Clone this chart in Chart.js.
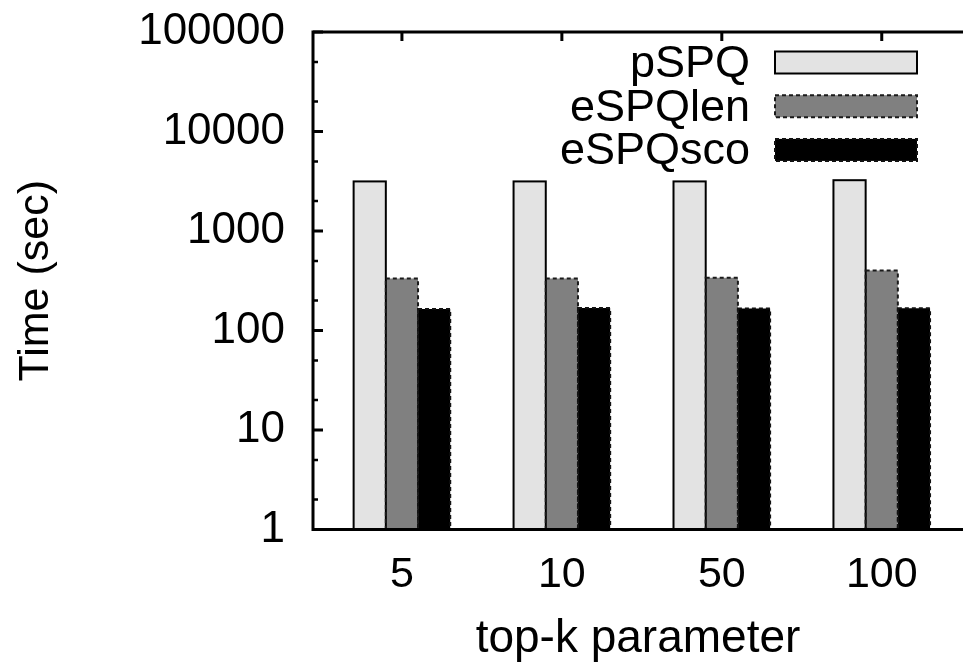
<!DOCTYPE html>
<html>
<head>
<meta charset="utf-8">
<script src="https://cdn.jsdelivr.net/npm/chart.js@4.4.1/dist/chart.umd.min.js"></script>
<style>
html,body{margin:0;padding:0;background:#fff;overflow:hidden}
#wrap{width:963px;height:665px;position:relative}
</style>
</head>
<body>
<div id="wrap"><canvas id="c"></canvas></div>
<script>
// ---- data ----
const categories = ['5', '10', '50', '100'];
const seriesNames = ['pSPQ', 'eSPQlen', 'eSPQsco'];
const pSPQ = [3150, 3150, 3150, 3240];
const eSPQlen = [333, 333, 338, 400];
const eSPQsco = [164, 168, 166, 167];
const yTickValues = [1, 10, 100, 1000, 10000, 100000];
const yMinorMultipliers = [2, 5];
const xTitle = 'top-k parameter';
const yTitle = 'Time (sec)';

const FONT = '"Liberation Sans", Arial, Helvetica, sans-serif';

function toPoints(arr) { return arr.map((v, i) => ({ x: i, y: v })); }

const seriesValues = [pSPQ, eSPQlen, eSPQsco];
const fills = ['#e3e3e3', '#808080', '#000000'];
const outlines = ['#000000', '#1a1a1a', '#111111'];
const dashes = [[], [4, 3], [4, 3]];

const datasets = seriesNames.map((name, i) => ({
  label: name,
  data: toPoints(seriesValues[i]),
  backgroundColor: fills[i],
  borderWidth: 0,
  outlineColor: outlines[i],
  outlineDash: dashes[i],
  categoryPercentage: 0.604,
  barPercentage: 1.0
}));

const decor = {
  id: 'decor',
  afterDatasetsDraw(chart) {
    const { ctx, chartArea: a, scales: { x, y } } = chart;
    chart.data.datasets.forEach((ds, di) => {
      const meta = chart.getDatasetMeta(di);
      meta.data.forEach(bar => {
        const p = bar.getProps(['x', 'y', 'base', 'width'], true);
        ctx.save();
        ctx.strokeStyle = ds.outlineColor;
        ctx.lineWidth = 2;
        ctx.setLineDash(ds.outlineDash);
        ctx.strokeRect(p.x - p.width / 2, p.y, p.width, p.base - p.y);
        ctx.restore();
      });
    });
    ctx.save();
    ctx.strokeStyle = '#000';
    ctx.lineWidth = 3;
    ctx.beginPath();
    ctx.moveTo(a.right + 5, a.top);
    ctx.lineTo(a.left, a.top);
    ctx.lineTo(a.left, a.bottom);
    ctx.lineTo(a.right + 5, a.bottom);
    ctx.stroke();
    ctx.beginPath();
    yTickValues.forEach(v => {
      const py = y.getPixelForValue(v);
      ctx.moveTo(a.left, py); ctx.lineTo(a.left + 10, py);
    });
    ctx.stroke();
    ctx.lineWidth = 2.5;
    ctx.beginPath();
    yTickValues.slice(0, -1).forEach(v => {
      yMinorMultipliers.forEach(m => {
        const py = y.getPixelForValue(v * m);
        ctx.moveTo(a.left, py); ctx.lineTo(a.left + 5, py);
      });
    });
    ctx.stroke();
    ctx.lineWidth = 3;
    ctx.beginPath();
    categories.forEach((c, i) => {
      const px = x.getPixelForValue(i);
      ctx.moveTo(px, a.top); ctx.lineTo(px, a.top + 9);
    });
    ctx.stroke();
    ctx.restore();

    // legend (inside, top right)
    const textRight = 750, sampleLeft = 775, sampleW = 142, sampleH = 22;
    const row0 = 62.5, rowStep = 43.7;
    ctx.save();
    ctx.font = '45px ' + FONT;
    ctx.textAlign = 'right';
    ctx.textBaseline = 'middle';
    chart.data.datasets.forEach((ds, i) => {
      const cy = row0 + i * rowStep;
      ctx.fillStyle = '#000';
      ctx.fillText(ds.label, textRight, cy + 2);
      ctx.fillStyle = ds.backgroundColor;
      ctx.fillRect(sampleLeft, cy - sampleH / 2, sampleW, sampleH);
      ctx.strokeStyle = ds.outlineColor;
      ctx.lineWidth = 2;
      ctx.setLineDash(ds.outlineDash);
      ctx.strokeRect(sampleLeft, cy - sampleH / 2, sampleW, sampleH);
      ctx.setLineDash([]);
    });
    ctx.restore();
  }
};

new Chart(document.getElementById('c'), {
  type: 'bar',
  data: { datasets },
  options: {
    responsive: true,
    maintainAspectRatio: false,
    animation: false,
    layout: { padding: { top: 32, right: 0, bottom: 0, left: 0 } },
    plugins: { legend: { display: false }, tooltip: { enabled: false } },
    scales: {
      x: {
        type: 'linear',
        offset: false,
        min: -0.556,
        max: 3.508,
        grid: { display: false, drawTicks: false },
        border: { display: false },
        afterBuildTicks: s => { s.ticks = categories.map((c, i) => ({ value: i })); },
        afterFit: s => { s.height = 135.5; s.paddingLeft = 0; s.paddingRight = 0; },
        ticks: {
          autoSkip: false,
          maxRotation: 0,
          padding: 20,
          color: '#000',
          font: { family: FONT, size: 43, lineHeight: 1.2 },
          callback: v => categories[v] !== undefined ? categories[v] : ''
        },
        title: {
          display: true, text: xTitle, color: '#000',
          font: { family: FONT, size: 46, lineHeight: 1.0 },
          padding: { top: 0, bottom: 3 }
        }
      },
      y: {
        type: 'logarithmic',
        min: 1,
        max: 100000,
        grid: { display: false, drawTicks: false },
        border: { display: false },
        afterBuildTicks: s => { s.ticks = yTickValues.map(v => ({ value: v })); },
        afterFit: s => { s.width = 313; s.paddingTop = 0; s.paddingBottom = 0; },
        ticks: {
          autoSkip: false,
          padding: 28,
          color: '#000',
          font: { family: FONT, size: 44, lineHeight: 1.2 },
          callback: v => String(v)
        },
        title: {
          display: true, text: yTitle, color: '#000',
          font: { family: FONT, size: 43, lineHeight: 1.0 },
          padding: { top: 15, bottom: 0 }
        }
      }
    }
  },
  plugins: [decor]
});
</script>
</body>
</html>
